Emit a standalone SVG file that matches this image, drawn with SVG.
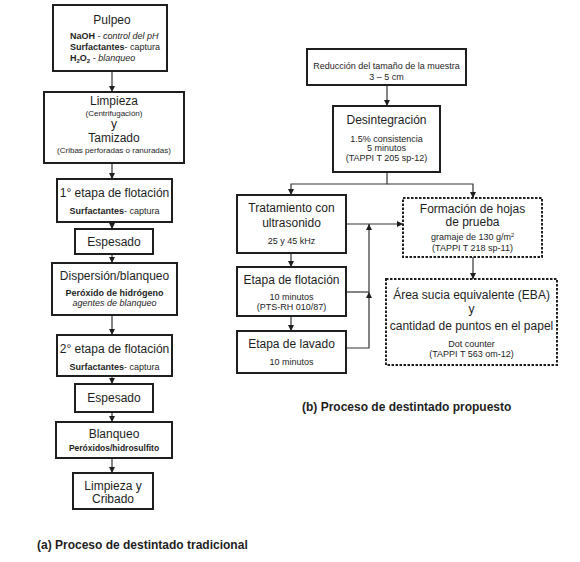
<svg xmlns="http://www.w3.org/2000/svg" width="580" height="562" viewBox="0 0 580 562">
<defs>
<style>
text{font-family:"Liberation Sans",Arial,sans-serif;fill:#1e1e1e}
.t{font-size:12px;text-anchor:middle}
.s{font-size:9px;text-anchor:middle}
.xs{font-size:8px;text-anchor:middle}
.b{font-weight:bold}
.i{font-style:italic}
.box{fill:#fff;stroke:#1e1e1e;stroke-width:2}
.dash{fill:#fff;stroke:#1e1e1e;stroke-width:2;stroke-dasharray:2.5 1.5}
.c{fill:none;stroke:#333;stroke-width:1.2}
.cap{font-size:12px;font-weight:bold}
</style>
<marker id="ah" viewBox="0 0 10 10" refX="10" refY="5" markerWidth="6" markerHeight="6" orient="auto" markerUnits="userSpaceOnUse">
<path d="M0,0 L10,5 L0,10 z" fill="#1e1e1e"/>
</marker>
</defs>
<rect width="580" height="562" fill="#fff"/>

<g id="connectors">
<line class="c" x1="112" y1="71" x2="112" y2="92" marker-end="url(#ah)"/>
<line class="c" x1="112" y1="163" x2="112" y2="179" marker-end="url(#ah)"/>
<line class="c" x1="112" y1="222" x2="112" y2="229" marker-end="url(#ah)"/>
<line class="c" x1="112" y1="254" x2="112" y2="263" marker-end="url(#ah)"/>
<line class="c" x1="112" y1="315" x2="112" y2="335" marker-end="url(#ah)"/>
<line class="c" x1="112" y1="376" x2="112" y2="384" marker-end="url(#ah)"/>
<line class="c" x1="112" y1="412" x2="112" y2="422" marker-end="url(#ah)"/>
<line class="c" x1="112" y1="458" x2="112" y2="473" marker-end="url(#ah)"/>

<line class="c" x1="387" y1="85" x2="387" y2="106" marker-end="url(#ah)"/>
<polyline class="c" points="387,172 387,184 291,184 291,195" marker-end="url(#ah)"/>
<polyline class="c" points="387,184 473,184 473,198" marker-end="url(#ah)"/>
<line class="c" x1="291" y1="253" x2="291" y2="267" marker-end="url(#ah)"/>
<line class="c" x1="291" y1="316" x2="291" y2="331" marker-end="url(#ah)"/>
<line class="c" x1="346" y1="224" x2="403" y2="224" marker-end="url(#ah)"/>
<polyline class="c" points="346,348 369,348 369,292" marker-end="url(#ah)"/>
<line class="c" x1="346" y1="292" x2="369" y2="292"/>
<line class="c" x1="369" y1="292" x2="369" y2="224" marker-end="url(#ah)"/>
<line class="c" x1="473" y1="257" x2="473" y2="279" marker-end="url(#ah)"/>
</g>

<g id="pulpeo">
<rect class="box" x="53" y="5" width="114" height="66"/>
<text class="t" x="112" y="24">Pulpeo</text>
<text x="70" y="39" font-size="9"><tspan class="b">NaOH</tspan> - <tspan class="i">control del pH</tspan></text>
<text x="70" y="50" font-size="9"><tspan class="b">Surfactantes</tspan>- captura</text>
<text x="70" y="61" font-size="9"><tspan class="b">H<tspan font-size="6" dy="2">2</tspan><tspan dy="-2">O</tspan><tspan font-size="6" dy="2">2</tspan></tspan><tspan dy="-2"> - </tspan><tspan class="i">blanqueo</tspan></text>
</g>

<g id="limpieza">
<rect class="box" x="44" y="92" width="140" height="71"/>
<text class="t" x="114" y="105" font-size="11.5">Limpieza</text>
<text class="xs" x="114" y="116" font-size="7.5">(Centrifugación)</text>
<text class="t" x="114" y="128" font-size="10.5">y</text>
<text class="t" x="114" y="142">Tamizado</text>
<text class="xs" x="114" y="153">(Cribas perforadas o ranuradas)</text>
</g>

<g id="flotacion1">
<rect class="box" x="57" y="179" width="115" height="43"/>
<text class="t" x="114.5" y="197" font-size="11.5">1° etapa de flotación</text>
<text class="s" x="114.5" y="214"><tspan class="b">Surfactantes</tspan>- captura</text>
</g>

<g id="espesado1">
<rect class="box" x="75" y="229" width="78" height="25"/>
<text class="t" x="114" y="246">Espesado</text>
</g>

<g id="dispersion">
<rect class="box" x="52" y="263" width="125" height="52"/>
<text class="t" x="114.5" y="280">Dispersión/blanqueo</text>
<text class="s b" x="114.5" y="296">Peróxido de hidrógeno</text>
<text class="s i" x="114.5" y="306">agentes de blanqueo</text>
</g>

<g id="flotacion2">
<rect class="box" x="57" y="335" width="115" height="41"/>
<text class="t" x="114.5" y="353" font-size="11.5">2° etapa de flotación</text>
<text class="s" x="114.5" y="370"><tspan class="b">Surfactantes</tspan>- captura</text>
</g>

<g id="espesado2">
<rect class="box" x="75" y="384" width="78" height="28"/>
<text class="t" x="114" y="402">Espesado</text>
</g>

<g id="blanqueo">
<rect class="box" x="56" y="422" width="116" height="36"/>
<text class="t" x="114" y="438">Blanqueo</text>
<text class="b" x="114" y="451" font-size="8.5" text-anchor="middle">Peróxidos/hidrosulfito</text>
</g>

<g id="limpieza-cribado">
<rect class="box" x="73" y="473" width="80" height="36"/>
<text class="t" x="113" y="490">Limpieza y</text>
<text class="t" x="113" y="503">Cribado</text>
</g>

<text class="cap" x="37" y="549">(a) Proceso de destintado tradicional</text>

<g id="reduccion">
<rect class="box" x="307" y="49" width="159" height="36"/>
<text class="s" x="386.5" y="69">Reducción del tamaño de la muestra</text>
<text class="s" x="386.5" y="80">3 – 5 cm</text>
</g>

<g id="desintegracion">
<rect class="box" x="333" y="106" width="107" height="66"/>
<text class="t" x="386.5" y="124">Desintegración</text>
<text class="s" x="386.5" y="142">1.5% consistencia</text>
<text class="s" x="386.5" y="151">5 minutos</text>
<text class="s" x="386.5" y="161">(TAPPI T 205 sp-12)</text>
</g>

<g id="ultrasonido">
<rect class="box" x="237" y="195" width="109" height="58"/>
<text class="t" x="291.5" y="212">Tratamiento con</text>
<text class="t" x="291.5" y="227">ultrasonido</text>
<text class="s" x="291.5" y="244">25 y 45 kHz</text>
</g>

<g id="etapa-flotacion">
<rect class="box" x="237" y="267" width="109" height="49"/>
<text class="t" x="291.5" y="284">Etapa de flotación</text>
<text class="s" x="291.5" y="300">10 minutos</text>
<text class="s" x="291.5" y="310">(PTS-RH 010/87)</text>
</g>

<g id="lavado">
<rect class="box" x="237" y="331" width="109" height="42"/>
<text class="t" x="291.5" y="348">Etapa de lavado</text>
<text class="s" x="291.5" y="365">10 minutos</text>
</g>

<g id="formacion">
<rect class="dash" x="403" y="198" width="139" height="59"/>
<text class="t" x="472.5" y="213" font-size="11">Formación de hojas</text>
<text class="t" x="472.5" y="226" font-size="11">de prueba</text>
<text class="s" x="472.5" y="240" font-size="8.5">gramaje de 130 g/m<tspan font-size="5.5" dy="-3">2</tspan></text>
<text class="s" x="472.5" y="251" font-size="8.5">(TAPPI T 218 sp-11)</text>
</g>

<g id="area-sucia">
<rect class="dash" x="386" y="279" width="171" height="86"/>
<text class="t" x="471.5" y="299">Área sucia equivalente (EBA)</text>
<text class="t" x="471.5" y="313" font-size="11">y</text>
<text class="t" x="471.5" y="330">cantidad de puntos en el papel</text>
<text class="s" x="471.5" y="347" font-size="8.5">Dot counter</text>
<text class="s" x="471.5" y="357" font-size="8.5">(TAPPI T 563 om-12)</text>
</g>

<text class="cap" x="302" y="411">(b) Proceso de destintado propuesto</text>
</svg>
